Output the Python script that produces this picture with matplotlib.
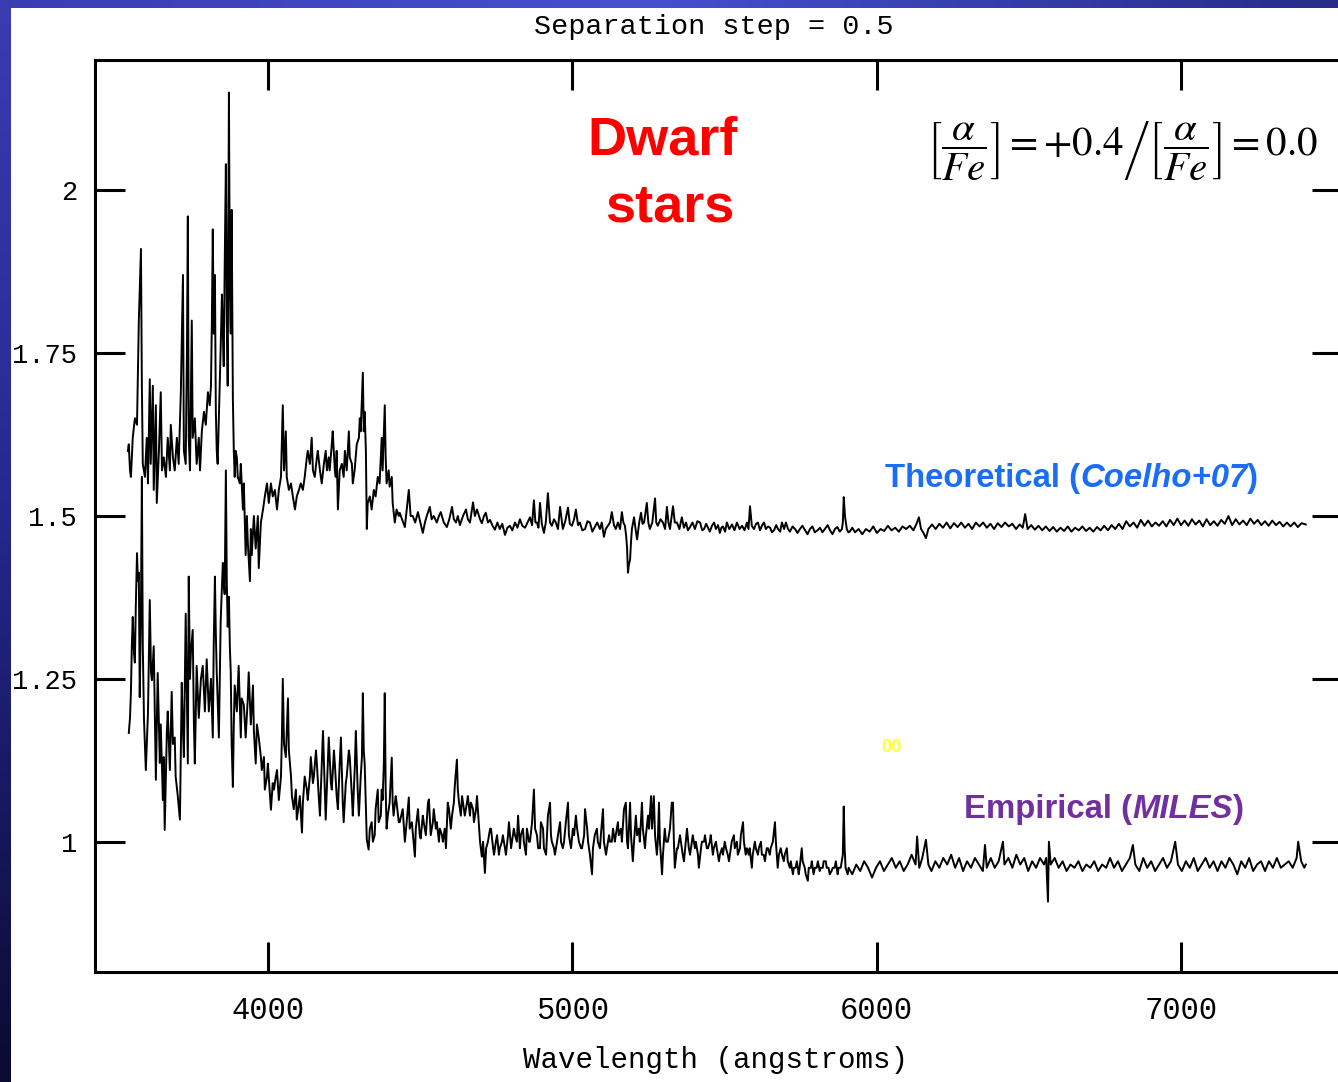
import numpy as np
import matplotlib.pyplot as plt

# ======================
# 数据：两条光谱（波长 Å, 归一化流量）
# ======================

# 理论光谱 (Coelho+07)，上面那条
theo = [
    (3540, 1.60), (3543, 1.61), (3547, 1.57), (3550, 1.56), (3556, 1.62), (3563, 1.65), (3570, 1.64), (3573, 1.72),
    (3576, 1.80), (3583, 1.91), (3586, 1.70), (3589, 1.58), (3596, 1.56), (3602, 1.62), (3606, 1.55), (3612, 1.71),
    (3615, 1.58), (3622, 1.70), (3625, 1.54), (3632, 1.67), (3635, 1.52), (3642, 1.60), (3648, 1.69), (3652, 1.57),
    (3658, 1.59), (3665, 1.56), (3671, 1.62), (3678, 1.57), (3681, 1.64), (3688, 1.59), (3694, 1.57), (3701, 1.62),
    (3707, 1.58), (3714, 1.69), (3721, 1.87), (3724, 1.60), (3730, 1.58), (3734, 1.75), (3737, 1.96), (3740, 1.62),
    (3744, 1.57), (3750, 1.80), (3753, 1.62), (3760, 1.65), (3766, 1.58), (3773, 1.62), (3777, 1.57), (3783, 1.63),
    (3790, 1.66), (3796, 1.64), (3803, 1.69), (3809, 1.67), (3813, 1.70), (3816, 1.80), (3819, 1.94), (3822, 1.78),
    (3826, 1.87), (3829, 1.66), (3832, 1.60), (3835, 1.58), (3839, 1.65), (3842, 1.70), (3845, 1.76), (3849, 1.84),
    (3852, 1.78), (3855, 1.73), (3858, 1.88), (3862, 2.04), (3865, 1.80), (3868, 1.70), (3872, 2.15), (3875, 1.85),
    (3878, 1.78), (3881, 1.97), (3885, 1.68), (3888, 1.60), (3891, 1.56), (3894, 1.60), (3898, 1.59), (3901, 1.56),
    (3908, 1.55), (3911, 1.58), (3918, 1.51), (3921, 1.55), (3927, 1.44), (3931, 1.50), (3934, 1.46), (3941, 1.40),
    (3944, 1.48), (3947, 1.44), (3954, 1.50), (3960, 1.45), (3967, 1.50), (3970, 1.42), (3977, 1.49), (3984, 1.51),
    (3990, 1.53), (3997, 1.55), (4003, 1.52), (4010, 1.55), (4016, 1.53), (4023, 1.54), (4030, 1.51), (4036, 1.54),
    (4043, 1.56), (4049, 1.67), (4053, 1.57), (4059, 1.63), (4062, 1.56), (4069, 1.54), (4076, 1.55), (4082, 1.53),
    (4089, 1.51), (4095, 1.53), (4102, 1.54), (4108, 1.55), (4115, 1.54), (4121, 1.56), (4128, 1.59), (4131, 1.60),
    (4138, 1.58), (4144, 1.62), (4148, 1.57), (4154, 1.56), (4161, 1.59), (4164, 1.60), (4171, 1.57), (4177, 1.55),
    (4184, 1.58), (4190, 1.60), (4194, 1.57), (4200, 1.59), (4203, 1.57), (4210, 1.61), (4213, 1.63), (4220, 1.57),
    (4223, 1.56), (4226, 1.60), (4230, 1.51), (4236, 1.57), (4243, 1.58), (4249, 1.56), (4253, 1.60), (4259, 1.57),
    (4266, 1.63), (4269, 1.59), (4276, 1.58), (4279, 1.55), (4285, 1.57), (4292, 1.61), (4299, 1.62), (4302, 1.65),
    (4305, 1.63), (4312, 1.72), (4315, 1.63), (4318, 1.66), (4322, 1.60), (4325, 1.48), (4328, 1.52), (4335, 1.53),
    (4341, 1.51), (4348, 1.54), (4354, 1.53), (4361, 1.56), (4367, 1.55), (4374, 1.62), (4377, 1.57), (4384, 1.67),
    (4387, 1.59), (4390, 1.55), (4397, 1.57), (4400, 1.545), (4407, 1.56), (4410, 1.52), (4417, 1.49), (4423, 1.51),
    (4430, 1.50), (4433, 1.505),
    (4450, 1.483), (4463, 1.54), (4469, 1.50), (4476, 1.50), (4484, 1.49), (4493, 1.506), (4501, 1.49), (4509, 1.474),
    (4516, 1.49), (4522, 1.50), (4532, 1.514), (4538, 1.495), (4545, 1.50), (4555, 1.49), (4562, 1.50), (4568, 1.506),
    (4578, 1.49), (4588, 1.483), (4596, 1.495), (4605, 1.514), (4611, 1.495), (4618, 1.49), (4624, 1.50), (4631, 1.486),
    (4641, 1.50), (4651, 1.51), (4657, 1.495), (4664, 1.49), (4674, 1.521), (4680, 1.50), (4687, 1.51), (4697, 1.495),
    (4703, 1.489), (4710, 1.50), (4716, 1.505), (4723, 1.49), (4730, 1.494), (4738, 1.485), (4746, 1.479), (4754, 1.49),
    (4762, 1.48), (4770, 1.488), (4779, 1.471), (4787, 1.482), (4795, 1.485), (4803, 1.478), (4812, 1.49), (4820, 1.482),
    (4828, 1.495), (4836, 1.485), (4845, 1.482), (4853, 1.49), (4861, 1.498), (4868, 1.486), (4874, 1.524), (4879, 1.49),
    (4884, 1.49), (4889, 1.482), (4894, 1.52), (4900, 1.488), (4907, 1.474), (4913, 1.49), (4920, 1.535), (4927, 1.49),
    (4933, 1.485), (4940, 1.495), (4946, 1.49), (4953, 1.48), (4960, 1.514), (4969, 1.48), (4977, 1.492), (4986, 1.513),
    (4992, 1.488), (4999, 1.485), (5006, 1.495), (5012, 1.51), (5019, 1.486), (5025, 1.49), (5033, 1.478), (5042, 1.48),
    (5050, 1.492), (5058, 1.49), (5066, 1.476), (5074, 1.483), (5082, 1.49), (5091, 1.48), (5097, 1.49), (5104, 1.468),
    (5110, 1.48), (5117, 1.485), (5124, 1.49), (5130, 1.506), (5137, 1.486), (5143, 1.48), (5150, 1.49), (5157, 1.48),
    (5163, 1.506), (5168, 1.49), (5173, 1.485), (5177, 1.47), (5180, 1.452), (5183, 1.413), (5186, 1.425), (5190, 1.433),
    (5193, 1.46), (5196, 1.48), (5203, 1.498), (5208, 1.48), (5213, 1.464), (5220, 1.49), (5226, 1.505), (5231, 1.488),
    (5236, 1.49), (5245, 1.52), (5250, 1.49), (5255, 1.48), (5263, 1.49), (5272, 1.527), (5276, 1.49), (5281, 1.485),
    (5290, 1.495), (5298, 1.49), (5305, 1.48), (5311, 1.514), (5316, 1.49), (5321, 1.48), (5331, 1.515), (5337, 1.49),
    (5344, 1.49), (5352, 1.48), (5360, 1.498), (5367, 1.482), (5374, 1.49), (5380, 1.478), (5387, 1.483), (5395, 1.49),
    (5403, 1.48), (5411, 1.492), (5420, 1.49), (5427, 1.478), (5433, 1.48), (5440, 1.488), (5446, 1.482), (5452, 1.476),
    (5459, 1.485), (5466, 1.49), (5472, 1.48), (5479, 1.486), (5485, 1.474), (5490, 1.482), (5495, 1.484), (5502, 1.476),
    (5508, 1.49), (5516, 1.48), (5525, 1.487), (5533, 1.478), (5541, 1.49), (5550, 1.48), (5558, 1.485), (5566, 1.478),
    (5574, 1.49), (5579, 1.48), (5584, 1.515), (5590, 1.485), (5597, 1.48), (5604, 1.488), (5610, 1.49), (5617, 1.478),
    (5623, 1.485), (5630, 1.49), (5636, 1.48), (5643, 1.484), (5650, 1.482), (5656, 1.475), (5663, 1.478), (5670, 1.486),
    (5676, 1.48), (5683, 1.476), (5689, 1.49), (5696, 1.48), (5702, 1.49), (5709, 1.48), (5715, 1.476), (5724, 1.484),
    (5732, 1.48), (5740, 1.474), (5748, 1.48), (5756, 1.485), (5765, 1.478), (5773, 1.472), (5781, 1.48), (5789, 1.484),
    (5797, 1.475), (5806, 1.478), (5814, 1.482), (5822, 1.475), (5830, 1.48), (5839, 1.486), (5847, 1.478), (5855, 1.472),
    (5863, 1.48), (5871, 1.483), (5879, 1.476), (5886, 1.48), (5889, 1.49), (5892, 1.529), (5896, 1.50), (5902, 1.48),
    (5907, 1.475), (5912, 1.476), (5920, 1.482), (5929, 1.475),
    (5941, 1.48), (5953, 1.472), (5965, 1.48), (5977, 1.476), (5989, 1.484), (6001, 1.474), (6013, 1.48), (6025, 1.477),
    (6037, 1.485), (6049, 1.478), (6061, 1.482), (6073, 1.476), (6085, 1.484), (6097, 1.48), (6109, 1.485), (6121, 1.478),
    (6131, 1.488), (6139, 1.498), (6146, 1.48), (6154, 1.474), (6162, 1.466), (6170, 1.48), (6182, 1.487), (6194, 1.48),
    (6206, 1.488), (6218, 1.482), (6230, 1.49), (6242, 1.481), (6254, 1.489), (6266, 1.483), (6278, 1.49), (6290, 1.482),
    (6302, 1.488), (6314, 1.48), (6326, 1.49), (6338, 1.484), (6350, 1.49), (6362, 1.482), (6374, 1.488), (6386, 1.48),
    (6398, 1.489), (6410, 1.483), (6422, 1.49), (6434, 1.484), (6446, 1.488), (6458, 1.48), (6470, 1.487), (6480, 1.482),
    (6488, 1.503), (6496, 1.48), (6508, 1.486), (6520, 1.479), (6532, 1.485), (6544, 1.478), (6556, 1.484), (6568, 1.477),
    (6580, 1.483), (6592, 1.476), (6604, 1.482), (6616, 1.477), (6628, 1.484), (6640, 1.476), (6652, 1.482), (6664, 1.478),
    (6676, 1.484), (6688, 1.477), (6700, 1.482), (6712, 1.476), (6724, 1.483), (6736, 1.478), (6748, 1.485), (6760, 1.478),
    (6772, 1.486), (6784, 1.48), (6796, 1.488), (6808, 1.48), (6820, 1.492), (6832, 1.484), (6844, 1.49), (6856, 1.482),
    (6868, 1.494), (6880, 1.485), (6892, 1.493), (6904, 1.484), (6916, 1.49), (6928, 1.485), (6940, 1.492), (6952, 1.484),
    (6964, 1.494), (6976, 1.486), (6988, 1.496), (7000, 1.486), (7012, 1.493), (7024, 1.485), (7036, 1.495), (7048, 1.487),
    (7060, 1.493), (7072, 1.484), (7084, 1.495), (7096, 1.486), (7108, 1.492), (7120, 1.485), (7132, 1.494), (7144, 1.488),
    (7156, 1.50), (7168, 1.486), (7180, 1.495), (7192, 1.487), (7204, 1.493), (7216, 1.486), (7228, 1.496), (7240, 1.488),
    (7252, 1.494), (7264, 1.486), (7276, 1.492), (7288, 1.485), (7300, 1.493), (7312, 1.486), (7324, 1.491), (7336, 1.484),
    (7348, 1.49), (7360, 1.484), (7372, 1.49), (7384, 1.483), (7396, 1.489), (7410, 1.487),
]

# 经验光谱 (MILES)，下面那条
emp = [
    (3543, 1.167), (3547, 1.19), (3550, 1.229), (3553, 1.30), (3556, 1.345), (3560, 1.29), (3563, 1.275), (3566, 1.36),
    (3570, 1.443), (3573, 1.40), (3576, 1.413), (3579, 1.222), (3583, 1.36), (3586, 1.56), (3589, 1.30), (3593, 1.187),
    (3599, 1.11), (3606, 1.197), (3612, 1.371), (3616, 1.26), (3619, 1.248), (3625, 1.30), (3632, 1.095), (3635, 1.18),
    (3638, 1.259), (3645, 1.121), (3648, 1.18), (3655, 1.064), (3658, 1.13), (3661, 1.018), (3668, 1.167), (3671, 1.20),
    (3678, 1.11), (3684, 1.23), (3688, 1.15), (3694, 1.16), (3697, 1.10), (3704, 1.07), (3711, 1.034), (3717, 1.244),
    (3721, 1.17), (3724, 1.13), (3730, 1.35), (3734, 1.22), (3737, 1.12), (3740, 1.407), (3744, 1.25), (3747, 1.29),
    (3753, 1.325), (3757, 1.18), (3760, 1.12), (3766, 1.27), (3773, 1.19), (3780, 1.25), (3786, 1.27), (3793, 1.20),
    (3799, 1.28), (3806, 1.20), (3813, 1.25), (3819, 1.16), (3822, 1.30), (3826, 1.407), (3829, 1.32), (3832, 1.26),
    (3839, 1.16), (3845, 1.34), (3852, 1.428), (3855, 1.40), (3858, 1.38), (3862, 1.57), (3865, 1.40), (3868, 1.33),
    (3872, 1.376), (3875, 1.30), (3878, 1.26), (3881, 1.15), (3885, 1.084), (3888, 1.18), (3891, 1.24), (3898, 1.20),
    (3904, 1.27), (3911, 1.16), (3914, 1.22), (3921, 1.21), (3927, 1.16), (3934, 1.22), (3937, 1.26), (3944, 1.18),
    (3951, 1.24), (3954, 1.17), (3960, 1.12), (3964, 1.18), (3970, 1.16), (3977, 1.13), (3980, 1.11), (3987, 1.13),
    (3990, 1.08), (3997, 1.10), (4000, 1.12), (4007, 1.07), (4010, 1.049), (4016, 1.09), (4020, 1.08), (4026, 1.10),
    (4030, 1.11), (4036, 1.064), (4043, 1.10), (4046, 1.16), (4049, 1.25), (4053, 1.15), (4059, 1.13), (4066, 1.22),
    (4069, 1.14), (4076, 1.10), (4079, 1.07), (4085, 1.05), (4092, 1.08), (4095, 1.034), (4102, 1.06), (4105, 1.07),
    (4112, 1.014), (4115, 1.06), (4121, 1.10), (4128, 1.08), (4131, 1.064), (4138, 1.10), (4141, 1.13), (4148, 1.09),
    (4151, 1.10), (4158, 1.14), (4161, 1.12), (4167, 1.07), (4171, 1.04), (4177, 1.12), (4181, 1.17), (4187, 1.08),
    (4190, 1.034), (4197, 1.12), (4200, 1.16), (4207, 1.09), (4210, 1.08), (4217, 1.14), (4220, 1.12), (4226, 1.07),
    (4230, 1.05), (4236, 1.12), (4240, 1.16), (4246, 1.06), (4249, 1.03), (4256, 1.09), (4259, 1.10), (4266, 1.14),
    (4269, 1.13), (4276, 1.07), (4279, 1.04), (4286, 1.12), (4289, 1.17), (4295, 1.08), (4299, 1.04), (4305, 1.10),
    (4309, 1.13), (4312, 1.228), (4315, 1.14), (4318, 1.12), (4322, 1.05), (4325, 1.003), (4331, 0.988), (4335, 1.02),
    (4341, 1.03), (4345, 1.00), (4351, 1.01), (4354, 1.05), (4361, 1.08), (4364, 1.03), (4371, 1.04), (4374, 1.08),
    (4377, 1.064), (4381, 1.12), (4384, 1.228), (4387, 1.08), (4390, 1.02), (4394, 1.04), (4400, 1.06), (4407, 1.129),
    (4410, 1.06), (4413, 1.04), (4420, 1.07), (4423, 1.06), (4430, 1.03), (4433, 1.03),
    (4443, 1.05), (4450, 1.00), (4456, 1.03), (4463, 1.068), (4466, 1.02), (4473, 1.03), (4483, 0.977), (4486, 1.02),
    (4493, 1.05), (4499, 1.01), (4502, 1.005), (4509, 1.04), (4512, 1.03), (4519, 1.01), (4526, 1.06), (4529, 1.065),
    (4535, 1.01), (4542, 1.03), (4545, 1.05), (4552, 1.02), (4555, 1.03), (4562, 1.00), (4565, 1.02), (4572, 1.01),
    (4575, 1.00), (4581, 1.02), (4585, 0.99), (4591, 1.06), (4595, 1.05), (4601, 1.02), (4605, 1.04), (4611, 1.06),
    (4614, 1.085), (4621, 1.126), (4624, 1.08), (4628, 1.06), (4634, 1.04), (4638, 1.07), (4644, 1.05), (4647, 1.04),
    (4654, 1.06), (4657, 1.07), (4664, 1.04), (4667, 1.06), (4674, 1.05), (4677, 1.03), (4684, 1.05), (4687, 1.07),
    (4694, 1.02), (4697, 1.00), (4703, 0.977), (4707, 1.00), (4713, 0.952), (4717, 0.99), (4723, 1.00), (4730, 1.02),
    (4733, 1.02), (4740, 0.99), (4743, 0.98), (4749, 1.00), (4753, 1.01), (4759, 0.98), (4762, 0.99), (4769, 1.00),
    (4772, 1.01), (4779, 0.99), (4782, 0.98), (4789, 1.01), (4792, 1.03), (4799, 0.99), (4802, 1.00), (4808, 1.02),
    (4812, 1.01), (4818, 1.00), (4822, 1.04), (4828, 0.99), (4831, 1.01), (4838, 1.02), (4841, 1.00), (4848, 0.98),
    (4851, 1.02), (4858, 1.00), (4861, 1.00), (4868, 1.03), (4874, 1.08), (4878, 1.02), (4884, 1.01), (4888, 0.99),
    (4894, 0.99), (4897, 1.03), (4904, 1.02), (4907, 0.99), (4914, 0.98), (4920, 1.04), (4927, 1.06), (4930, 1.01),
    (4933, 1.00), (4940, 0.99), (4943, 0.98), (4950, 1.00), (4953, 1.01), (4960, 1.03), (4963, 1.00), (4969, 0.99),
    (4973, 1.00), (4979, 1.03), (4986, 1.06), (4989, 1.01), (4996, 0.99), (5002, 1.02), (5006, 1.01), (5012, 1.04),
    (5016, 1.02), (5022, 1.00), (5029, 0.99), (5032, 0.99), (5039, 1.01), (5042, 1.05), (5049, 1.02), (5052, 1.00),
    (5058, 0.98), (5065, 0.95), (5068, 0.99), (5074, 1.01), (5081, 1.02), (5084, 1.00), (5091, 0.99), (5094, 1.01),
    (5101, 1.05), (5104, 1.00), (5111, 0.98), (5114, 0.99), (5121, 1.01), (5124, 1.00), (5130, 1.00), (5134, 1.02),
    (5140, 1.00), (5143, 1.01), (5150, 1.03), (5153, 1.01), (5160, 1.02), (5163, 1.00), (5170, 1.05), (5176, 1.06),
    (5180, 1.00), (5183, 0.99), (5190, 1.06), (5193, 1.01), (5199, 0.97), (5203, 1.00), (5209, 1.04), (5213, 1.01),
    (5219, 1.02), (5222, 1.00), (5229, 1.06), (5232, 1.02), (5239, 0.99), (5242, 1.01), (5249, 1.04), (5252, 1.02),
    (5259, 1.07), (5262, 1.02), (5268, 1.07), (5272, 1.01), (5278, 0.98), (5281, 1.00), (5285, 1.06), (5288, 1.00),
    (5295, 0.95), (5298, 0.98), (5304, 1.02), (5308, 1.00), (5314, 1.00), (5321, 1.02), (5327, 1.06), (5331, 1.06),
    (5334, 1.00), (5337, 0.96), (5344, 0.99), (5347, 0.99), (5354, 1.01), (5357, 1.00), (5363, 0.98), (5367, 0.97),
    (5373, 1.00), (5377, 1.02), (5383, 0.99), (5387, 0.98), (5393, 1.00), (5396, 1.01), (5403, 0.99), (5406, 1.00),
    (5413, 0.98), (5416, 0.96), (5423, 0.99), (5426, 1.00), (5433, 1.00), (5436, 1.01), (5442, 0.99), (5446, 0.99),
    (5452, 1.00), (5455, 1.01), (5462, 0.98), (5465, 0.99), (5472, 1.00), (5475, 0.99), (5482, 0.97), (5485, 0.98),
    (5492, 0.99), (5495, 0.98), (5501, 1.00), (5505, 0.99), (5511, 0.98), (5515, 0.97), (5521, 0.99), (5524, 1.00),
    (5531, 1.01), (5534, 0.99), (5541, 1.00), (5544, 0.98), (5551, 0.99), (5554, 1.01), (5561, 1.03), (5564, 1.00),
    (5570, 0.98), (5574, 0.99), (5580, 0.98), (5583, 0.99), (5590, 0.96), (5593, 0.98), (5600, 1.00), (5603, 0.99),
    (5610, 0.98), (5613, 0.99), (5620, 1.00), (5623, 0.98), (5629, 0.98), (5633, 0.97), (5639, 0.99), (5643, 0.99),
    (5649, 0.98), (5652, 0.99), (5659, 1.00), (5666, 1.03), (5669, 1.00), (5675, 0.96), (5679, 0.98), (5685, 0.99),
    (5689, 0.98), (5695, 0.97), (5698, 0.98), (5705, 0.99), (5708, 0.97), (5715, 0.96), (5718, 0.97), (5725, 0.95),
    (5728, 0.96), (5734, 0.96), (5738, 0.97), (5744, 0.95), (5747, 0.96), (5754, 0.99), (5757, 0.97), (5764, 0.96),
    (5767, 0.95), (5774, 0.94), (5777, 0.96), (5784, 0.96), (5787, 0.97), (5793, 0.95), (5797, 0.96), (5803, 0.96),
    (5807, 0.97), (5813, 0.955), (5816, 0.96), (5823, 0.96), (5826, 0.97), (5833, 0.97), (5836, 0.96), (5842, 0.96),
    (5846, 0.95), (5852, 0.955), (5856, 0.96), (5862, 0.96), (5866, 0.97), (5872, 0.95), (5875, 0.96), (5882, 0.96),
    (5889, 0.98), (5892, 1.054), (5895, 0.99), (5898, 0.96), (5905, 0.95), (5908, 0.96),
    (5920, 0.95), (5933, 0.965), (5946, 0.955), (5959, 0.97), (5972, 0.96), (5985, 0.945), (5998, 0.96), (6011, 0.97),
    (6024, 0.955), (6037, 0.965), (6050, 0.975), (6063, 0.96), (6076, 0.97), (6089, 0.955), (6102, 0.965), (6115, 0.98),
    (6128, 0.965), (6133, 1.008), (6140, 0.96), (6150, 0.975), (6162, 1.003), (6170, 0.965), (6180, 0.955), (6193, 0.97),
    (6206, 0.96), (6219, 0.975), (6232, 0.965), (6245, 0.98), (6258, 0.96), (6271, 0.975), (6284, 0.955), (6297, 0.97),
    (6310, 0.96), (6323, 0.975), (6336, 0.965), (6349, 0.955), (6356, 0.995), (6362, 0.96), (6375, 0.975), (6388, 0.96),
    (6401, 0.97), (6415, 1.00), (6420, 0.965), (6433, 0.975), (6446, 0.96), (6459, 0.98), (6472, 0.965), (6485, 0.975),
    (6498, 0.955), (6511, 0.97), (6524, 0.96), (6537, 0.975), (6550, 0.965), (6557, 0.975), (6563, 0.908), (6566, 1.00),
    (6572, 0.965), (6585, 0.975), (6598, 0.96), (6611, 0.97), (6624, 0.955), (6637, 0.965), (6650, 0.96), (6663, 0.97),
    (6676, 0.955), (6689, 0.965), (6702, 0.96), (6715, 0.97), (6728, 0.955), (6741, 0.965), (6754, 0.96), (6767, 0.975),
    (6780, 0.96), (6793, 0.97), (6806, 0.955), (6819, 0.965), (6832, 0.975), (6842, 0.995), (6850, 0.965), (6863, 0.955),
    (6876, 0.975), (6889, 0.96), (6902, 0.97), (6915, 0.955), (6928, 0.965), (6941, 0.975), (6954, 0.96), (6967, 0.97),
    (6981, 1.00), (6990, 0.965), (7003, 0.955), (7016, 0.97), (7029, 0.96), (7042, 0.975), (7055, 0.955), (7068, 0.965),
    (7081, 0.975), (7094, 0.96), (7107, 0.97), (7120, 0.955), (7133, 0.97), (7146, 0.96), (7159, 0.975), (7172, 0.965),
    (7185, 0.95), (7198, 0.97), (7211, 0.96), (7224, 0.975), (7237, 0.955), (7250, 0.965), (7263, 0.97), (7276, 0.955),
    (7289, 0.97), (7302, 0.96), (7315, 0.975), (7328, 0.96), (7341, 0.965), (7354, 0.97), (7367, 0.96), (7380, 0.975),
    (7385, 1.00), (7395, 0.97), (7405, 0.96), (7410, 0.965),
]

x_ticks = [4000, 5000, 6000, 7000]
y_ticks = [1.0, 1.25, 1.5, 1.75, 2.0]
y_tick_labels = ['1', '1.25', '1.5', '1.75', '2']

theo_wave, theo_flux = zip(*theo)
emp_wave, emp_flux = zip(*emp)

# ======================
# 画布 + 幻灯片的蓝色渐变边框
# ======================
W, H = 1338, 1082
fig = plt.figure(figsize=(W / 100, H / 100), dpi=100)

bg = fig.add_axes([0, 0, 1, 1])
bg.set_axis_off()
img = np.ones((H, W, 3))
xs = np.arange(W)
ys = np.arange(H)
top = np.stack([np.interp(xs, [0, 650, W], c) for c in ([0x3a, 0x46, 0x26], [0x3c, 0x50, 0x2c], [0xb2, 0xd0, 0x88])], axis=1) / 255
left = np.stack([np.interp(ys, [0, 500, H], c) for c in ([0x3a, 0x26, 0x0a], [0x3c, 0x28, 0x0a], [0xb2, 0x90, 0x32])], axis=1) / 255
img[:8, :, :] = top[None, :, :]
img[:, :11, :] = left[:, None, :]
bg.imshow(img, extent=[0, W, H, 0], aspect='auto', interpolation='nearest')
bg.set_xlim(0, W)
bg.set_ylim(H, 0)

# ======================
# 主图
# ======================
ax = fig.add_axes([95 / W, (H - 972) / H, (1342 - 95) / W, (972 - 60) / H])
ax.plot(theo_wave, theo_flux, color='black', lw=1.4)
ax.plot(emp_wave, emp_flux, color='black', lw=1.4)
ax.set_xlim(3432, 7529)
ax.set_ylim(0.8, 2.2)

mono = 'Liberation Mono'
ax.set_xticks(x_ticks)
ax.set_xticklabels([str(t) for t in x_ticks], family=mono, fontsize=22)
ax.set_yticks(y_ticks)
ax.set_yticklabels(y_tick_labels, family=mono, fontsize=19.5)
ax.tick_params(direction='in', length=21.6, width=2.2, top=True, right=True)
ax.tick_params(axis='x', pad=17)
ax.tick_params(axis='y', pad=13)
for s in ax.spines.values():
    s.set_linewidth(2.2)

fig.text(714 / W, 1 - 27 / H, 'Separation step = 0.5', ha='center', va='center', family=mono, fontsize=20.5)
fig.text(716 / W, 1 - 1060 / H, 'Wavelength (angstroms)', ha='center', va='center', family=mono, fontsize=21)

# 标注文字
sans = 'Liberation Sans'
ax.text(5298, 2.077, 'Dwarf', color='#ff0000', fontsize=39, fontweight='bold', family=sans, ha='center', va='center')
ax.text(5321, 1.974, 'stars', color='#ff0000', fontsize=39, fontweight='bold', family=sans, ha='center', va='center')

blue = '#1a6ef5'
t1 = ax.text(6027, 1.557, 'Theoretical (', color=blue, fontsize=23.7, fontweight='bold', family=sans, ha='left', va='center')
t2 = ax.annotate('Coelho+07', xy=(1, 0), xycoords=t1, va='bottom', ha='left', color=blue,
                 fontsize=23.7, fontweight='bold', style='italic', family=sans)
ax.annotate(')', xy=(1, 0), xycoords=t2, va='bottom', ha='left', color=blue, fontsize=23.7, fontweight='bold', family=sans)

purple = '#7030a0'
e1 = ax.text(6287, 1.049, 'Empirical (', color=purple, fontsize=23.7, fontweight='bold', family=sans, ha='left', va='center')
e2 = ax.annotate('MILES', xy=(1, 0), xycoords=e1, va='bottom', ha='left', color=purple,
                 fontsize=23.7, fontweight='bold', style='italic', family=sans)
ax.annotate(')', xy=(1, 0), xycoords=e2, va='bottom', ha='left', color=purple, fontsize=23.7, fontweight='bold', family=sans)

ax.text(6050, 1.144, '00', color='#ffff33', fontsize=13, fontweight='bold', family=sans, ha='center', va='center')

ax.text(6165, 2.061,
        r'$\left[\dfrac{\alpha}{Fe}\right] = {+}0.4 \left/ \left[\dfrac{\alpha}{Fe}\right] = 0.0 \right.$',
        math_fontfamily='stix', fontsize=29.5, ha='left', va='center')

fig.savefig('out.png', dpi=100)
